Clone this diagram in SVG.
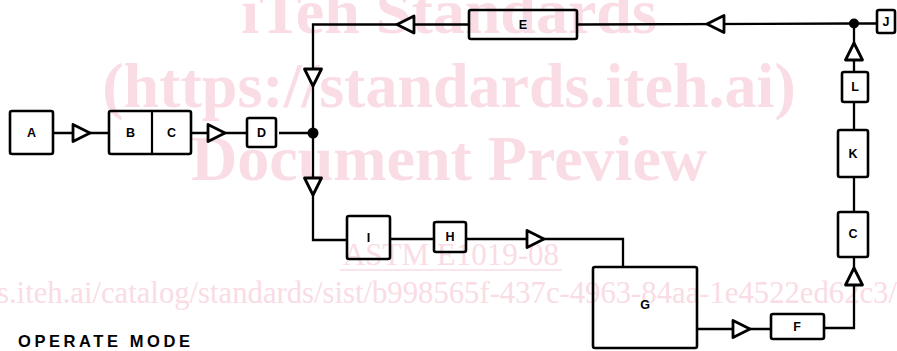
<svg xmlns="http://www.w3.org/2000/svg" width="897" height="351" viewBox="0 0 897 351">
<style>
.wm{font-family:"Liberation Serif","Times New Roman",serif;fill:#f9dce4;}
.wmb{font-weight:bold;font-size:64px;}
.box{fill:none;stroke:#000;stroke-width:2.6;}
.ln{fill:none;stroke:#000;stroke-width:2.3;stroke-linejoin:miter;}
.lbl{font-family:"Liberation Sans",Arial,sans-serif;font-weight:bold;font-size:12.5px;fill:#000;text-anchor:middle;dominant-baseline:central;}
.title{font-family:"Liberation Sans",Arial,sans-serif;font-weight:bold;font-size:16.5px;fill:#000;}
</style>
<defs>
<path id="tri" d="M-8,-8.5 L9,0 L-8,8.5 Z" fill="#fff" stroke="#000" stroke-width="2.8" stroke-linejoin="round"/>
</defs>
<rect width="897" height="351" fill="#fff"/>
<g id="watermark">
<text class="wm wmb" x="449" y="33" text-anchor="middle">iTeh Standards</text>
<text class="wm wmb" x="449" y="107" text-anchor="middle">(https://standards.iteh.ai)</text>
<text class="wm wmb" x="449" y="180" text-anchor="middle">Document Preview</text>
<text class="wm" x="451" y="265" text-anchor="middle" font-size="31">ASTM E1019-08</text>
<line x1="340" y1="270" x2="562" y2="270" stroke="#f9dce4" stroke-width="1.5"/>
<text class="wm" x="-3" y="303" font-size="31" textLength="900" lengthAdjust="spacingAndGlyphs">s.iteh.ai/catalog/standards/sist/b998565f-437c-4963-84aa-1e4522ed62c3/</text>
</g>
<g id="connectors">
<path class="ln" d="M53,133 H109"/>
<path class="ln" d="M191,133 H247"/>
<path class="ln" d="M279,133 H313"/>
<path class="ln" d="M469,24.5 H313 V240 H347"/>
<path class="ln" d="M390,239 H434"/>
<path class="ln" d="M466,239 H623 V267"/>
<path class="ln" d="M697,329 H771"/>
<path class="ln" d="M824,328 H854 V257"/>
<path class="ln" d="M854,212 V177"/>
<path class="ln" d="M854,130 V102"/>
<path class="ln" d="M854,72 V24"/>
<path class="ln" d="M577,24.5 L854,23.5 H877"/>
<circle cx="313" cy="133" r="5.5" fill="#000"/>
<circle cx="854" cy="23.5" r="5" fill="#000"/>
<use href="#tri" transform="translate(81,133)"/>
<use href="#tri" transform="translate(216,133)"/>
<use href="#tri" transform="translate(313,77) rotate(90)"/>
<use href="#tri" transform="translate(313,186) rotate(90)"/>
<use href="#tri" transform="translate(535,239)"/>
<use href="#tri" transform="translate(741,329)"/>
<use href="#tri" transform="translate(854,277) rotate(-90)"/>
<use href="#tri" transform="translate(854,52) rotate(-90)"/>
<use href="#tri" transform="translate(716,24) rotate(180)"/>
<use href="#tri" transform="translate(406,24.5) rotate(180)"/>
</g>
<g id="node-A">
<rect class="box" x="10" y="111" width="43" height="43" rx="2"/>
<text class="lbl" x="31.5" y="133">A</text>
</g>
<g id="node-BC">
<rect class="box" x="109" y="111" width="82" height="43" rx="2"/>
<line x1="152" y1="111" x2="152" y2="154" stroke="#000" stroke-width="2.2"/>
<text class="lbl" x="130.5" y="133">B</text>
<text class="lbl" x="171.5" y="133">C</text>
</g>
<g id="node-D">
<rect class="box" x="247" y="118" width="29" height="29" rx="2"/>
<text class="lbl" x="261.5" y="133">D</text>
</g>
<g id="node-E">
<rect class="box" x="469" y="10" width="108" height="29" rx="2"/>
<text class="lbl" x="523" y="25" font-size="11">E</text>
</g>
<g id="node-J">
<rect class="box" x="877" y="10" width="18" height="23" rx="2"/>
<text class="lbl" x="886" y="22" font-size="11">J</text>
</g>
<g id="node-L">
<rect class="box" x="842" y="72" width="26" height="30" rx="2"/>
<text class="lbl" x="855" y="87" font-size="11">L</text>
</g>
<g id="node-K">
<rect class="box" x="838" y="130" width="30" height="47" rx="2"/>
<text class="lbl" x="853" y="154" font-size="11">K</text>
</g>
<g id="node-C2">
<rect class="box" x="838" y="212" width="30" height="45" rx="2"/>
<text class="lbl" x="853" y="234">C</text>
</g>
<g id="node-I">
<rect class="box" x="347" y="216" width="43" height="43" rx="2"/>
<text class="lbl" x="368.5" y="238">I</text>
</g>
<g id="node-H">
<rect class="box" x="434" y="222" width="32" height="30" rx="2"/>
<text class="lbl" x="450" y="237" font-size="11">H</text>
</g>
<g id="node-G">
<rect class="box" x="593" y="267" width="104" height="81" rx="2"/>
<text class="lbl" x="645" y="305">G</text>
</g>
<g id="node-F">
<rect class="box" x="771" y="314" width="53" height="25" rx="2"/>
<text class="lbl" x="797" y="327">F</text>
</g>
<text class="title" x="18" y="347" textLength="172" lengthAdjust="spacing">OPERATE MODE</text>
</svg>
